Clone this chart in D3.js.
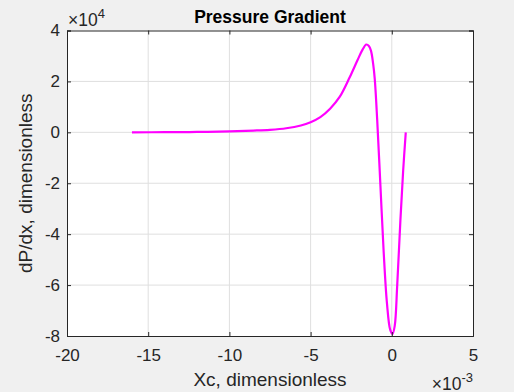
<!DOCTYPE html>
<html><head><meta charset="utf-8">
<script src="https://cdn.jsdelivr.net/npm/d3@7"></script>
<style>
html,body{margin:0;padding:0;background:#f0f0f0;}
svg{display:block;font-family:"Liberation Sans",Arial,sans-serif;}
</style></head>
<body>
<svg id="c" width="514" height="392"></svg>
<script>
// x in units of 1e-3, y in units of 1e4
const xVals = [-16, -14, -12, -10, -8.5, -7.5, -6.5, -5.6, -5.0, -4.4, -3.8, -3.2, -2.6, -2.1, -1.8, -1.57, -1.4, -1.28, -1.15, -1.05, -0.9, -0.7, -0.5, -0.3, -0.1, 0.04, 0.18, 0.33, 0.53, 0.7, 0.86];
const yVals = [0, 0.005, 0.015, 0.04, 0.07, 0.1, 0.16, 0.27, 0.4, 0.6, 0.93, 1.4, 2.15, 2.85, 3.25, 3.45, 3.38, 3.2, 2.7, 2.1, 0.5, -2.1, -4.7, -6.7, -7.75, -7.92, -7.6, -6.05, -3.45, -1.5, 0];
const xTicks = [-20, -15, -10, -5, 0, 5];
const yTicks = [-8, -6, -4, -2, 0, 2, 4];
const title = "Pressure Gradient";
const xLabel = "Xc, dimensionless";
const yLabel = "dP/dx, dimensionless";

const svg = d3.select("#c");
const L = 67, R = 473, T = 30.5, B = 336;
const x = d3.scaleLinear().domain([-20, 5]).range([L, R]);
const y = d3.scaleLinear().domain([-8, 4]).range([B, T]);

svg.append("rect").attr("x", L).attr("y", T).attr("width", R - L).attr("height", B - T).attr("fill", "#fff");

// grid
const g = svg.append("g");
g.selectAll(".gx").data(xTicks.slice(1, -1)).join("line")
  .attr("x1", d => x(d)).attr("x2", d => x(d)).attr("y1", T).attr("y2", B)
  .attr("stroke", "#dfdfdf").attr("stroke-width", 1);
g.selectAll(".gy").data(yTicks.slice(1, -1)).join("line")
  .attr("y1", d => y(d)).attr("y2", d => y(d)).attr("x1", L).attr("x2", R)
  .attr("stroke", "#dfdfdf").attr("stroke-width", 1);

// line
const pts = xVals.map((v, i) => [v, yVals[i]]);
svg.append("path").datum(pts)
  .attr("d", d3.line().x(d => x(d[0])).y(d => y(d[1])).curve(d3.curveCatmullRom.alpha(0.5)))
  .attr("fill", "none").attr("stroke", "#ff00ff").attr("stroke-width", 2.2)
  .attr("stroke-linejoin", "round");

// axes
const fmt = d => String(d);
const ax = d3.axisBottom(x).tickValues(xTicks).tickSize(-4).tickPadding(13).tickFormat(fmt);
const ay = d3.axisLeft(y).tickValues(yTicks).tickSize(-4).tickPadding(7).tickFormat(fmt);
const axT = d3.axisTop(x).tickValues(xTicks).tickSize(-4).tickFormat("");
const ayR = d3.axisRight(y).tickValues(yTicks).tickSize(-4).tickFormat("");
function style(sel) {
  sel.selectAll("path").attr("stroke", "#262626").attr("stroke-width", 1);
  sel.selectAll("line").attr("stroke", "#262626");
  sel.selectAll("text").attr("fill", "#262626").attr("font-size", 17).attr("font-family", "'Liberation Sans',Arial,sans-serif");
}
svg.append("g").attr("transform", `translate(0,${B})`).call(ax).call(style);
svg.append("g").attr("transform", `translate(${L},0)`).call(ay).call(style);
svg.append("g").attr("transform", `translate(0,${T})`).call(axT).call(style);
svg.append("g").attr("transform", `translate(${R},0)`).call(ayR).call(style);

// title
svg.append("text").attr("x", (L + R) / 2).attr("y", 23).attr("text-anchor", "middle")
  .attr("font-weight", "bold").attr("font-size", 17.5).attr("fill", "#000").text(title);
svg.append("text").attr("x", (L + R) / 2).attr("y", 386).attr("text-anchor", "middle")
  .attr("font-size", 19).attr("fill", "#262626").text(xLabel);
svg.append("text").attr("transform", `translate(32,${(T + B) / 2}) rotate(-90)`).attr("text-anchor", "middle")
  .attr("font-size", 19).attr("fill", "#262626").text(yLabel);

// exponent labels
const e1 = svg.append("text").attr("x", 68).attr("y", 26).attr("font-size", 17.5).attr("fill", "#262626");
e1.append("tspan").text("\u00d710");
e1.append("tspan").attr("dy", -8).attr("font-size", 13).text("4");
const e2 = svg.append("text").attr("x", 473).attr("y", 389.5).attr("text-anchor", "end").attr("font-size", 17.5).attr("fill", "#262626");
e2.append("tspan").text("\u00d710");
e2.append("tspan").attr("dy", -8).attr("font-size", 13).text("-3");
</script>
</body></html>
